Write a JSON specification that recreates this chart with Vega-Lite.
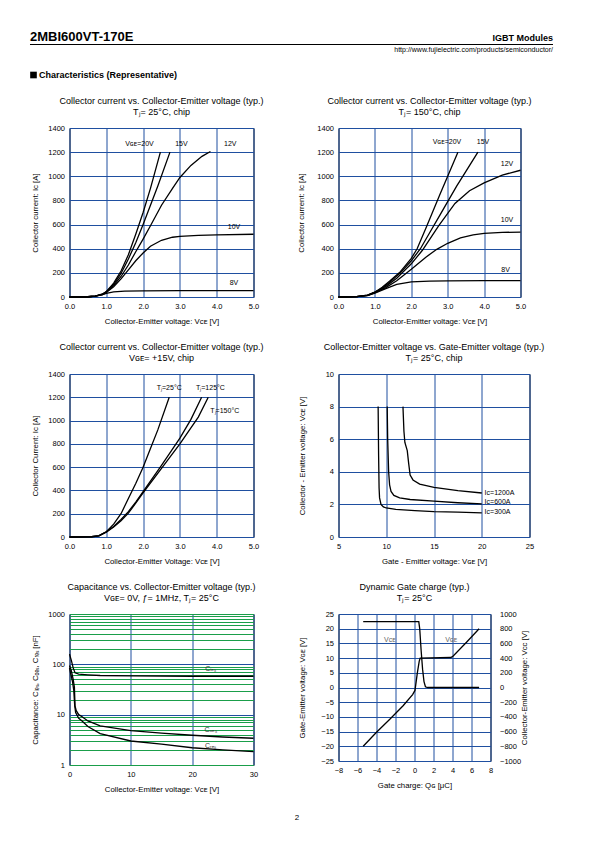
{
"$schema": "https://vega.github.io/schema/vega-lite/v6.json",
"padding": {"left": 28.5, "top": 28, "right": 5, "bottom": 5},
"background": "white",
"title": {"text": "2", "orient": "bottom", "anchor": "middle", "fontSize": 8, "offset": 20, "frame": "group", "dx": 227.5},
"columns": 2,
"align": "each",
"bounds": "flush",
"spacing": {"row": 77, "column": 85},
"datasets": {
"p1": [
{"s":"20V","x":0,"y":0},{"s":"20V","x":0.5,"y":2},{"s":"20V","x":0.7,"y":8},{"s":"20V","x":0.9,"y":25},{"s":"20V","x":1.0,"y":45},{"s":"20V","x":1.2,"y":115},{"s":"20V","x":1.4,"y":215},{"s":"20V","x":1.6,"y":350},{"s":"20V","x":1.8,"y":520},{"s":"20V","x":2.0,"y":700},{"s":"20V","x":2.2,"y":900},{"s":"20V","x":2.47,"y":1200},
{"s":"15V","x":0,"y":0},{"s":"15V","x":0.5,"y":2},{"s":"15V","x":0.7,"y":8},{"s":"15V","x":0.9,"y":24},{"s":"15V","x":1.0,"y":44},{"s":"15V","x":1.2,"y":105},{"s":"15V","x":1.4,"y":195},{"s":"15V","x":1.6,"y":315},{"s":"15V","x":1.8,"y":450},{"s":"15V","x":2.0,"y":600},{"s":"15V","x":2.2,"y":760},{"s":"15V","x":2.4,"y":920},{"s":"15V","x":2.73,"y":1200},
{"s":"12V","x":0,"y":0},{"s":"12V","x":0.5,"y":2},{"s":"12V","x":0.7,"y":8},{"s":"12V","x":0.9,"y":22},{"s":"12V","x":1.0,"y":42},{"s":"12V","x":1.2,"y":95},{"s":"12V","x":1.4,"y":170},{"s":"12V","x":1.6,"y":265},{"s":"12V","x":1.8,"y":375},{"s":"12V","x":2.0,"y":480},{"s":"12V","x":2.2,"y":590},{"s":"12V","x":2.5,"y":760},{"s":"12V","x":2.8,"y":900},{"s":"12V","x":3.0,"y":990},{"s":"12V","x":3.3,"y":1090},{"s":"12V","x":3.6,"y":1165},{"s":"12V","x":3.83,"y":1205},
{"s":"10V","x":0,"y":0},{"s":"10V","x":0.5,"y":2},{"s":"10V","x":0.7,"y":7},{"s":"10V","x":0.9,"y":20},{"s":"10V","x":1.0,"y":38},{"s":"10V","x":1.2,"y":85},{"s":"10V","x":1.4,"y":150},{"s":"10V","x":1.6,"y":225},{"s":"10V","x":1.8,"y":300},{"s":"10V","x":2.0,"y":365},{"s":"10V","x":2.2,"y":420},{"s":"10V","x":2.5,"y":470},{"s":"10V","x":2.8,"y":495},{"s":"10V","x":3.0,"y":503},{"s":"10V","x":3.5,"y":510},{"s":"10V","x":4.0,"y":514},{"s":"10V","x":5.0,"y":520},
{"s":"8V","x":0,"y":0},{"s":"8V","x":0.5,"y":2},{"s":"8V","x":0.7,"y":7},{"s":"8V","x":0.9,"y":20},{"s":"8V","x":1.0,"y":30},{"s":"8V","x":1.2,"y":42},{"s":"8V","x":1.5,"y":48},{"s":"8V","x":2.0,"y":51},{"s":"8V","x":3.0,"y":52},{"s":"8V","x":5.0,"y":53}
],
"p1l": [
{"t":"Vɢᴇ=20V","x":1.9,"y":1265},{"t":"15V","x":3.04,"y":1265},{"t":"12V","x":4.37,"y":1265},{"t":"10V","x":4.47,"y":580},{"t":"8V","x":4.47,"y":116}
],
"p2": [
{"s":"20V","x":0,"y":0},{"s":"20V","x":0.5,"y":3},{"s":"20V","x":0.8,"y":15},{"s":"20V","x":1.0,"y":40},{"s":"20V","x":1.2,"y":80},{"s":"20V","x":1.4,"y":130},{"s":"20V","x":1.7,"y":210},{"s":"20V","x":2.0,"y":320},{"s":"20V","x":2.16,"y":400},{"s":"20V","x":2.4,"y":570},{"s":"20V","x":2.6,"y":715},{"s":"20V","x":2.8,"y":860},{"s":"20V","x":3.0,"y":1000},{"s":"20V","x":3.28,"y":1200},
{"s":"15V","x":0,"y":0},{"s":"15V","x":0.5,"y":3},{"s":"15V","x":0.8,"y":15},{"s":"15V","x":1.0,"y":40},{"s":"15V","x":1.2,"y":75},{"s":"15V","x":1.4,"y":120},{"s":"15V","x":1.7,"y":200},{"s":"15V","x":2.0,"y":300},{"s":"15V","x":2.25,"y":400},{"s":"15V","x":2.5,"y":530},{"s":"15V","x":2.75,"y":660},{"s":"15V","x":3.0,"y":790},{"s":"15V","x":3.25,"y":920},{"s":"15V","x":3.5,"y":1040},{"s":"15V","x":3.83,"y":1200},
{"s":"12V","x":0,"y":0},{"s":"12V","x":0.5,"y":3},{"s":"12V","x":0.8,"y":14},{"s":"12V","x":1.0,"y":38},{"s":"12V","x":1.3,"y":88},{"s":"12V","x":1.6,"y":155},{"s":"12V","x":2.0,"y":275},{"s":"12V","x":2.3,"y":385},{"s":"12V","x":2.75,"y":590},{"s":"12V","x":3.2,"y":775},{"s":"12V","x":3.6,"y":880},{"s":"12V","x":4.0,"y":945},{"s":"12V","x":4.5,"y":1010},{"s":"12V","x":5.0,"y":1050},
{"s":"10V","x":0,"y":0},{"s":"10V","x":0.5,"y":3},{"s":"10V","x":0.8,"y":13},{"s":"10V","x":1.0,"y":36},{"s":"10V","x":1.3,"y":78},{"s":"10V","x":1.6,"y":135},{"s":"10V","x":2.0,"y":230},{"s":"10V","x":2.4,"y":330},{"s":"10V","x":2.7,"y":395},{"s":"10V","x":3.0,"y":445},{"s":"10V","x":3.35,"y":490},{"s":"10V","x":3.7,"y":515},{"s":"10V","x":4.0,"y":527},{"s":"10V","x":4.5,"y":535},{"s":"10V","x":5.0,"y":538},
{"s":"8V","x":0,"y":0},{"s":"8V","x":0.5,"y":3},{"s":"8V","x":0.8,"y":12},{"s":"8V","x":1.0,"y":32},{"s":"8V","x":1.3,"y":70},{"s":"8V","x":1.6,"y":105},{"s":"8V","x":2.0,"y":125},{"s":"8V","x":2.5,"y":131},{"s":"8V","x":3.0,"y":133},{"s":"8V","x":4.0,"y":135},{"s":"8V","x":5.0,"y":136}
],
"p2l": [
{"t":"Vɢᴇ=20V","x":2.98,"y":1284},{"t":"15V","x":3.97,"y":1284},{"t":"12V","x":4.63,"y":1104},{"t":"10V","x":4.63,"y":635},{"t":"8V","x":4.59,"y":220}
],
"p3": [
{"s":"25","x":0,"y":0},{"s":"25","x":0.6,"y":3},{"s":"25","x":0.8,"y":12},{"s":"25","x":1.0,"y":45},{"s":"25","x":1.2,"y":110},{"s":"25","x":1.4,"y":200},{"s":"25","x":1.6,"y":330},{"s":"25","x":1.8,"y":460},{"s":"25","x":2.0,"y":600},{"s":"25","x":2.2,"y":760},{"s":"25","x":2.4,"y":920},{"s":"25","x":2.71,"y":1200},
{"s":"125","x":0,"y":0},{"s":"125","x":0.6,"y":2},{"s":"125","x":0.8,"y":10},{"s":"125","x":1.0,"y":45},{"s":"125","x":1.2,"y":90},{"s":"125","x":1.4,"y":150},{"s":"125","x":1.6,"y":218},{"s":"125","x":1.8,"y":300},{"s":"125","x":2.0,"y":390},{"s":"125","x":2.5,"y":615},{"s":"125","x":3.0,"y":850},{"s":"125","x":3.3,"y":1010},{"s":"125","x":3.59,"y":1200},
{"s":"150","x":0,"y":0},{"s":"150","x":0.6,"y":2},{"s":"150","x":0.8,"y":10},{"s":"150","x":1.0,"y":42},{"s":"150","x":1.2,"y":85},{"s":"150","x":1.4,"y":140},{"s":"150","x":1.6,"y":205},{"s":"150","x":1.8,"y":290},{"s":"150","x":2.0,"y":380},{"s":"150","x":2.5,"y":590},{"s":"150","x":3.0,"y":800},{"s":"150","x":3.5,"y":1030},{"s":"150","x":3.77,"y":1200}
],
"p3l": [
{"t":"Tⱼ=25°C","x":2.71,"y":1276},{"t":"Tⱼ=125°C","x":3.83,"y":1276},{"t":"Tⱼ=150°C","x":4.22,"y":1084}
],
"p4": [
{"s":"300A","x":9.15,"y":8.0},{"s":"300A","x":9.2,"y":5},{"s":"300A","x":9.25,"y":3},{"s":"300A","x":9.3,"y":2.4},{"s":"300A","x":9.45,"y":2.0},{"s":"300A","x":9.7,"y":1.85},{"s":"300A","x":10,"y":1.78},{"s":"300A","x":11,"y":1.7},{"s":"300A","x":13,"y":1.62},{"s":"300A","x":15,"y":1.56},{"s":"300A","x":17.5,"y":1.52},{"s":"300A","x":20,"y":1.48},
{"s":"600A","x":10.1,"y":8.0},{"s":"600A","x":10.15,"y":6},{"s":"600A","x":10.25,"y":4},{"s":"600A","x":10.35,"y":3.2},{"s":"600A","x":10.5,"y":2.8},{"s":"600A","x":10.8,"y":2.55},{"s":"600A","x":11.4,"y":2.4},{"s":"600A","x":12.5,"y":2.3},{"s":"600A","x":15,"y":2.2},{"s":"600A","x":17.5,"y":2.1},{"s":"600A","x":20,"y":2.03},
{"s":"1200A","x":11.75,"y":8.0},{"s":"1200A","x":11.85,"y":6.5},{"s":"1200A","x":11.95,"y":5.8},{"s":"1200A","x":12.2,"y":5.3},{"s":"1200A","x":12.35,"y":4.5},{"s":"1200A","x":12.5,"y":3.8},{"s":"1200A","x":12.8,"y":3.5},{"s":"1200A","x":13.5,"y":3.25},{"s":"1200A","x":15,"y":3.05},{"s":"1200A","x":17.5,"y":2.85},{"s":"1200A","x":20,"y":2.7}
],
"p4l": [
{"t":"Iᴄ=1200A","x":20.3,"y":2.7},{"t":"Iᴄ=600A","x":20.3,"y":2.15},{"t":"Iᴄ=300A","x":20.3,"y":1.55}
],
"p5": [
{"s":"Cies","x":0,"y":160},{"s":"Cies","x":0.3,"y":120},{"s":"Cies","x":0.6,"y":85},{"s":"Cies","x":0.9,"y":68},{"s":"Cies","x":1.5,"y":64},{"s":"Cies","x":3,"y":62},{"s":"Cies","x":5,"y":60},{"s":"Cies","x":10,"y":59},{"s":"Cies","x":20,"y":58},{"s":"Cies","x":30,"y":58},
{"s":"Coes","x":0,"y":95},{"s":"Coes","x":0.3,"y":75},{"s":"Coes","x":0.6,"y":50},{"s":"Coes","x":0.8,"y":35},{"s":"Coes","x":0.9,"y":15},{"s":"Coes","x":1.1,"y":12},{"s":"Coes","x":1.5,"y":10},{"s":"Coes","x":2,"y":9.2},{"s":"Coes","x":3,"y":7.5},{"s":"Coes","x":5,"y":6},{"s":"Coes","x":10,"y":4.8},{"s":"Coes","x":15,"y":4.3},{"s":"Coes","x":20,"y":3.9},{"s":"Coes","x":25,"y":3.6},{"s":"Coes","x":30,"y":3.4},
{"s":"Cres","x":0,"y":85},{"s":"Cres","x":0.2,"y":65},{"s":"Cres","x":0.5,"y":45},{"s":"Cres","x":0.7,"y":30},{"s":"Cres","x":0.85,"y":15},{"s":"Cres","x":1,"y":11},{"s":"Cres","x":1.5,"y":8.5},{"s":"Cres","x":2,"y":7.6},{"s":"Cres","x":3,"y":5.8},{"s":"Cres","x":5,"y":4.2},{"s":"Cres","x":10,"y":3.0},{"s":"Cres","x":15,"y":2.6},{"s":"Cres","x":20,"y":2.2},{"s":"Cres","x":25,"y":2.0},{"s":"Cres","x":30,"y":1.85}
],
"p5l": [
{"t":"Cᵢₑₛ","x":23,"y":79},{"t":"Cₒₑₛ","x":23,"y":4.9},{"t":"Cᵣₑₛ","x":23,"y":2.35}
],
"p6g": [
{"x":-5.4,"y":-20},{"x":-4,"y":-15.2},{"x":-2.6,"y":-10.8},{"x":-1.2,"y":-6.2},{"x":-0.2,"y":-2.4},{"x":0.05,"y":-1},{"x":0.3,"y":5},{"x":0.5,"y":9},{"x":0.6,"y":10},{"x":3.8,"y":10.2},{"x":4.0,"y":10.5},{"x":5.5,"y":15.5},{"x":6.8,"y":20}
],
"p6c": [
{"x":-5.4,"y":895},{"x":0.45,"y":895},{"x":0.55,"y":800},{"x":0.7,"y":500},{"x":0.85,"y":250},{"x":1.0,"y":80},{"x":1.15,"y":10},{"x":1.4,"y":0},{"x":6.8,"y":0}
],
"p6l": [
{"t":"Vᴄᴇ","x":-2.6,"y":16.3},{"t":"Vɢᴇ","x":3.86,"y":16.3}
]
},
"concat": [
{
"width": 184, "height": 23,
"view": {"stroke": null},
"layer": [
{"data": {"values": [{"label": "2MBI600VT-170E"}]},
 "mark": {"type": "text", "align": "left", "baseline": "alphabetic", "fontSize": 13, "fontWeight": "bold"},
 "encoding": {"x": {"datum": -0.2147, "type": "quantitative", "scale": {"domain": [0, 1]}, "axis": null},
  "y": {"datum": 13, "type": "quantitative", "scale": {"domain": [0, 23], "reverse": true}, "axis": null},
  "text": {"field": "label"}}},
{"data": {"values": [{"label": "rule"}]},
 "mark": {"type": "rule", "strokeWidth": 1.2, "color": "#000"},
 "encoding": {"x": {"datum": -0.2147, "type": "quantitative", "scale": {"domain": [0, 1]}, "axis": null},
  "x2": {"datum": 2.6277},
  "y": {"datum": 16.5, "type": "quantitative", "scale": {"domain": [0, 23], "reverse": true}, "axis": null}}},
{"data": {"values": [{"label": "square"}]},
 "mark": {"type": "point", "shape": "square", "filled": true, "size": 44, "color": "#000", "opacity": 1},
 "encoding": {"x": {"datum": -0.1957, "type": "quantitative", "scale": {"domain": [0, 1]}, "axis": null},
  "y": {"datum": 47, "type": "quantitative", "scale": {"domain": [0, 23], "reverse": true}, "axis": null}}},
{"data": {"values": [{"label": "Characteristics (Representative)"}]},
 "mark": {"type": "text", "align": "left", "baseline": "alphabetic", "fontSize": 9, "fontWeight": "bold"},
 "encoding": {"x": {"datum": -0.1658, "type": "quantitative", "scale": {"domain": [0, 1]}, "axis": null},
  "y": {"datum": 50, "type": "quantitative", "scale": {"domain": [0, 23], "reverse": true}, "axis": null},
  "text": {"field": "label"}}}
]
},
{
"width": 214.5, "height": 23,
"view": {"stroke": null},
"encoding": {
 "x": {"datum": 1, "type": "quantitative", "scale": {"domain": [0, 1]}, "axis": null}
},
"layer": [
{"data": {"values": [{"label": "IGBT Modules"}]},
 "mark": {"type": "text", "align": "right", "baseline": "alphabetic", "fontSize": 9, "fontWeight": "bold"},
 "encoding": {"y": {"datum": 13, "type": "quantitative", "scale": {"domain": [0, 23], "reverse": true}, "axis": null},
  "text": {"field": "label"}}},
{"data": {"values": [{"label": "http://www.fujielectric.com/products/semiconductor/"}]},
 "mark": {"type": "text", "align": "right", "baseline": "alphabetic", "fontSize": 7},
 "encoding": {"y": {"datum": 24, "type": "quantitative", "scale": {"domain": [0, 23], "reverse": true}, "axis": null},
  "text": {"field": "label"}}}
]
},
{
"width": 184, "height": 169,
"title": {"text": ["Collector current vs. Collector-Emitter voltage (typ.)", "Tⱼ= 25°C, chip"]},
"encoding": {
 "x": {"field": "x", "type": "quantitative", "scale": {"domain": [0, 5]}, "axis": {"title": "Collector-Emitter voltage: Vᴄᴇ [V]", "values": [0, 1, 2, 3, 4, 5], "format": ".1f"}},
 "y": {"field": "y", "type": "quantitative", "scale": {"domain": [0, 1400]}, "axis": {"title": "Collector current: Iᴄ [A]", "values": [0, 200, 400, 600, 800, 1000, 1200, 1400], "format": "d"}}
},
"layer": [
{"data": {"name": "p1"}, "mark": {"type": "line"}, "encoding": {"detail": {"field": "s"}}},
{"data": {"name": "p1l"}, "mark": {"type": "text"}, "encoding": {"text": {"field": "t"}}}
]
},
{
"width": 182, "height": 169,
"title": {"text": ["Collector current vs. Collector-Emitter voltage (typ.)", "Tⱼ= 150°C, chip"]},
"encoding": {
 "x": {"field": "x", "type": "quantitative", "scale": {"domain": [0, 5]}, "axis": {"title": "Collector-Emitter voltage: Vᴄᴇ [V]", "values": [0, 1, 2, 3, 4, 5], "format": ".1f"}},
 "y": {"field": "y", "type": "quantitative", "scale": {"domain": [0, 1400]}, "axis": {"title": "Collector current: Iᴄ [A]", "titlePadding": 11, "values": [0, 200, 400, 600, 800, 1000, 1200, 1400], "format": "d"}}
},
"layer": [
{"data": {"name": "p2"}, "mark": {"type": "line"}, "encoding": {"detail": {"field": "s"}}},
{"data": {"name": "p2l"}, "mark": {"type": "text"}, "encoding": {"text": {"field": "t"}}}
]
},
{
"width": 184, "height": 163,
"title": {"text": ["Collector current vs. Collector-Emitter voltage (typ.)", "Vɢᴇ= +15V, chip"]},
"encoding": {
 "x": {"field": "x", "type": "quantitative", "scale": {"domain": [0, 5]}, "axis": {"title": "Collector-Emitter Voltage: Vᴄᴇ [V]", "values": [0, 1, 2, 3, 4, 5], "format": ".1f"}},
 "y": {"field": "y", "type": "quantitative", "scale": {"domain": [0, 1400]}, "axis": {"title": "Collector Current: Iᴄ [A]", "values": [0, 200, 400, 600, 800, 1000, 1200, 1400], "format": "d"}}
},
"layer": [
{"data": {"name": "p3"}, "mark": {"type": "line"}, "encoding": {"detail": {"field": "s"}}},
{"data": {"name": "p3l"}, "mark": {"type": "text"}, "encoding": {"text": {"field": "t"}}}
]
},
{
"width": 191, "height": 163,
"title": {"text": ["Collector-Emitter voltage vs. Gate-Emitter voltage (typ.)", "Tⱼ= 25°C, chip"]},
"encoding": {
 "x": {"field": "x", "type": "quantitative", "scale": {"domain": [5, 25]}, "axis": {"title": "Gate - Emitter voltage: Vɢᴇ [V]", "values": [5, 10, 15, 20, 25]}},
 "y": {"field": "y", "type": "quantitative", "scale": {"domain": [0, 10]}, "axis": {"title": "Collector - Emitter voltage: Vᴄᴇ [V]", "titlePadding": 19, "values": [0, 2, 4, 6, 8, 10]}}
},
"layer": [
{"data": {"name": "p4"}, "mark": {"type": "line"}, "encoding": {"detail": {"field": "s"}}},
{"data": {"name": "p4l"}, "mark": {"type": "text", "align": "left"}, "encoding": {"text": {"field": "t"}}}
]
},
{
"width": 184, "height": 151,
"title": {"text": ["Capacitance vs. Collector-Emitter voltage (typ.)", "Vɢᴇ= 0V, ƒ= 1MHz, Tⱼ= 25°C"]},
"encoding": {
 "x": {"field": "x", "type": "quantitative", "scale": {"domain": [0, 30]}, "axis": {"title": "Collector-Emitter voltage: Vᴄᴇ [V]", "values": [0, 10, 20, 30]}},
 "y": {"field": "y", "type": "quantitative", "scale": {"type": "log", "domain": [1, 1000]}, "axis": {"title": "Capacitance: Cᵢₑₛ, Cₒₑₛ, Cᵣₑₛ [nF]", "values": [1, 2, 3, 4, 5, 6, 7, 8, 9, 10, 20, 30, 40, 50, 60, 70, 80, 90, 100, 200, 300, 400, 500, 600, 700, 800, 900, 1000],
   "labelExpr": "(datum.value == 1 || datum.value == 10 || datum.value == 100 || datum.value == 1000) ? '' + datum.value : ''",
   "gridColor": {"condition": {"test": "datum.value == 10 || datum.value == 100", "value": "#1f4fa0"}, "value": "#1a9e4a"}}}
},
"layer": [
{"data": {"name": "p5"}, "mark": {"type": "line"}, "encoding": {"detail": {"field": "s"}}},
{"data": {"name": "p5l"}, "mark": {"type": "text", "color": "#333"}, "encoding": {"text": {"field": "t"}}}
]
},
{
"width": 152, "height": 147,
"title": {"text": ["Dynamic Gate charge (typ.)", "Tⱼ= 25°C"]},
"resolve": {"scale": {"y": "independent"}, "axis": {"y": "independent"}},
"encoding": {
 "x": {"field": "x", "type": "quantitative", "scale": {"domain": [-8, 8]}, "axis": {"title": "Gate charge: Qɢ [μC]", "values": [-8, -6, -4, -2, 0, 2, 4, 6, 8]}}
},
"layer": [
{"data": {"name": "p6g"}, "mark": {"type": "line"},
 "encoding": {"y": {"field": "y", "type": "quantitative", "scale": {"domain": [-25, 25]}, "axis": {"title": "Gate-Emitter voltage:  Vɢᴇ [V]", "titlePadding": 14, "values": [-25, -20, -15, -10, -5, 0, 5, 10, 15, 20, 25]}}}},
{"data": {"name": "p6c"}, "mark": {"type": "line"},
 "encoding": {"y": {"field": "y", "type": "quantitative", "scale": {"domain": [-1000, 1000]}, "axis": {"orient": "right", "grid": false, "title": "Collector-Emitter voltage: Vᴄᴄ [V]", "titleAngle": 270, "labelPadding": 9, "format": "d", "values": [-1000, -800, -600, -400, -200, 0, 200, 400, 600, 800, 1000]}}}},
{"data": {"name": "p6l"}, "mark": {"type": "text", "color": "#666"},
 "encoding": {"y": {"field": "y", "type": "quantitative", "scale": {"domain": [-25, 25]}, "axis": null}, "text": {"field": "t"}}}
]
}
],
"config": {
"font": "Liberation Sans",
"view": {"stroke": "#000", "strokeWidth": 1},
"title": {"fontSize": 9, "fontWeight": "normal", "lineHeight": 11, "offset": 7.5, "color": "#000", "font": "Liberation Sans"},
"axis": {"labelFont": "Liberation Sans", "titleFont": "Liberation Sans", "labelFontSize": 7.5, "titleFontSize": 7.8, "titleFontWeight": "normal", "ticks": false, "domain": false, "labelPadding": 5, "titlePadding": 8, "gridColor": "#1f4fa0", "gridOpacity": 1, "gridWidth": 1, "labelFlush": false, "labelOverlap": false, "labelColor": "#000", "titleColor": "#000", "grid": true},
"line": {"color": "#000", "strokeWidth": 1.3},
"text": {"fontSize": 7, "color": "#000", "font": "Liberation Sans"}
}
}
